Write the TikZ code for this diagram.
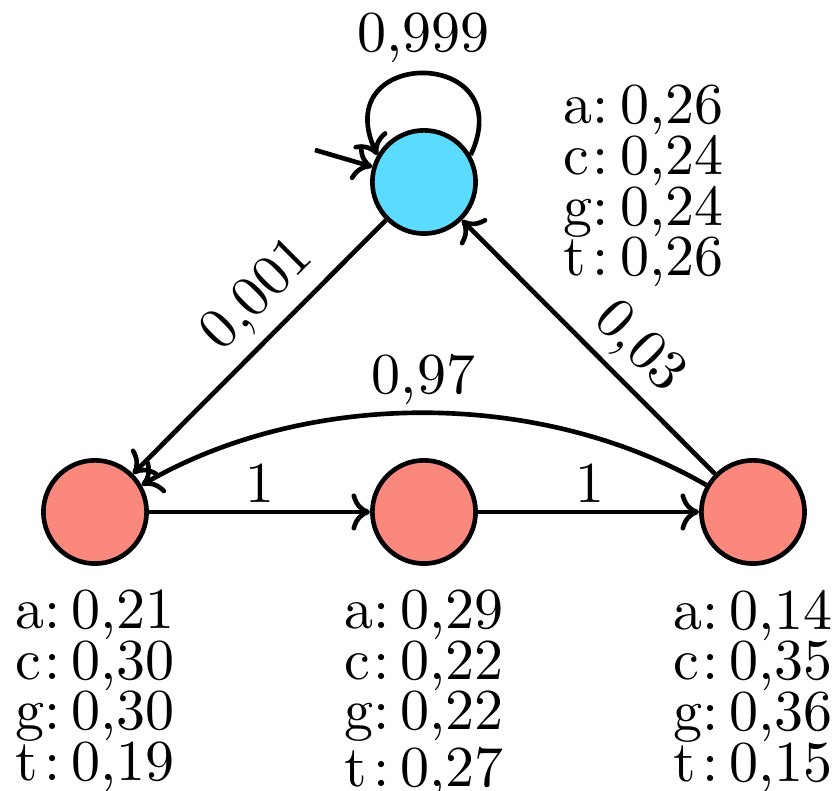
\documentclass[tikz,border=0pt]{standalone}
\usepackage{tikz}
\usetikzlibrary{arrows.meta}
\definecolor{startblue}{RGB}{90,219,255}
\definecolor{statered}{RGB}{250,136,124}
\newcommand\emrow[2]{\makebox[5pt][l]{#1}:\hspace{2pt}#2}
\begin{document}
\begin{tikzpicture}[x=0.17244pt,y=0.17244pt,line width=0.8pt,
  state/.style={circle,draw=black,line width=0.8pt,minimum size=17.8pt,inner sep=0pt},
  lbl/.style={inner sep=0pt,font=\fontsize{10pt}{12pt}\selectfont},
  emis/.style={inner sep=0pt,align=left,font=\fontsize{10pt}{8.74pt}\selectfont},
  arr/.style={-{To[length=3.2pt,width=6.4pt]},line width=0.8pt}]
\useasboundingbox (0,0) rectangle (839,791);
% states
\node[state,fill=startblue] (S) at (424,609) {};
\node[state,fill=statered] (L) at (95,279) {};
\node[state,fill=statered] (M) at (424,279) {};
\node[state,fill=statered] (R) at (753,279) {};
% initial arrow
\coordinate (init) at (315,641);
\draw[arr] (init) -- (S);
% transitions
\draw[arr] (S.30) .. controls +(65:120) and +(115:120) .. (S.150);
\draw[arr] (S) -- (L);
\draw[arr] (R) -- (S);
\draw[arr] (R.150) .. controls +(150:192) and +(30:192) .. (L.30);
\draw[arr] (L) -- (M);
\draw[arr] (M) -- (R);
% transition labels
\node[lbl] (l999) at (423.5,753) {0,999};
\node[lbl,rotate=45] (l001) at (259,495) {0,001};
\node[lbl,rotate=-45] (l03) at (638.5,443) {0,03};
\node[lbl] (l97) at (423.5,411.5) {0,97};
\node[lbl] (l1a) at (260,307.7) {1};
\node[lbl] (l1b) at (590,307.7) {1};
% emission labels
\node[emis,anchor=north west] (eS) at (561,708.3)
  {\emrow{a}{0,26}\\\emrow{c}{0,24}\\\emrow{g}{0,24}\\\emrow{t}{0,26}};
\node[emis,anchor=north] (eL) at (95,203.3)
  {\emrow{a}{0,21}\\\emrow{c}{0,30}\\\emrow{g}{0,30}\\\emrow{t}{0,19}};
\node[emis,anchor=north] (eM) at (424,203.3)
  {\emrow{a}{0,29}\\\emrow{c}{0,22}\\\emrow{g}{0,22}\\\emrow{t}{0,27}};
\node[emis,anchor=north] (eR) at (753,203.3)
  {\emrow{a}{0,14}\\\emrow{c}{0,35}\\\emrow{g}{0,36}\\\emrow{t}{0,15}};
\end{tikzpicture}
\end{document}
